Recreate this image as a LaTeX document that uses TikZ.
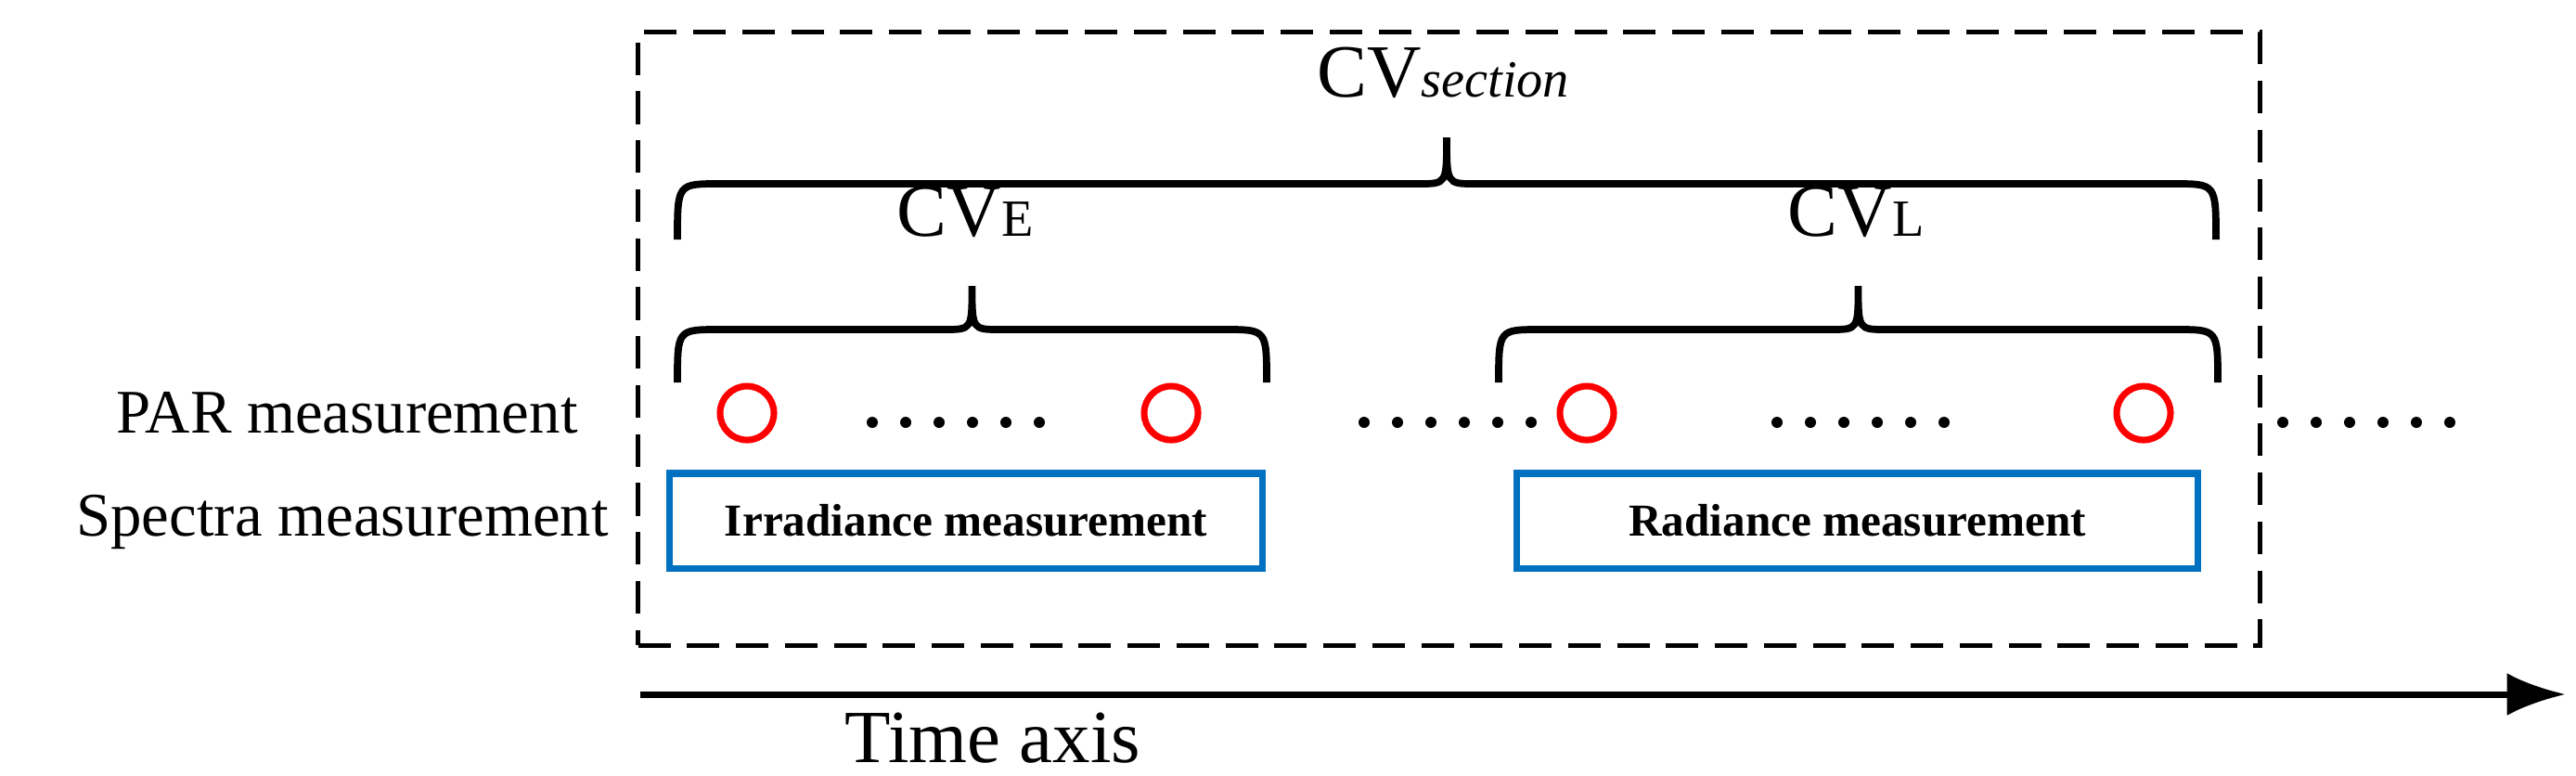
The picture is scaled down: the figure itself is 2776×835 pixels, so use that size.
\documentclass[tikz,border=0pt]{standalone}
\usepackage{fontspec}
\setmainfont{Liberation Serif}
\usetikzlibrary{arrows.meta}
\definecolor{boxblue}{RGB}{0,112,192}
\newcommand{\mybrace}[5]{% x1 x2 ybottom ymid ytop
  \pgfmathsetmacro{\xc}{(#1+#2)/2}
  \draw[line width=2.2pt] (#1,#3) .. controls (#1,#4) .. (#1+45,#4) -- (\xc-30,#4) .. controls (\xc,#4) .. (\xc,#5)
    .. controls (\xc,#4) .. (\xc+30,#4) -- (#2-45,#4) .. controls (#2,#4) .. (#2,#3);}
\begin{document}
\begin{tikzpicture}[x=0.01cm,y=-0.01cm,
  circ/.style={draw=red,line width=2pt,circle,minimum size=0.58cm,inner sep=0},
  box/.style={draw=boxblue,line width=2pt,minimum height=1.02cm,font=\fontsize{14}{17}\selectfont\bfseries},
  lab/.style={font=\fontsize{19}{22}\selectfont}]
\useasboundingbox (0,0) rectangle (2776,835);
\node[draw,dash pattern=on 10pt off 5pt,line width=1.5pt,minimum width=17.47cm,minimum height=6.6cm,inner sep=0] (frame) at (1561.5,365) {};
\node[font=\fontsize{23}{26}\selectfont] (cvs) at (1555,78) {CV\textit{\fontsize{16}{19}\selectfont section}};
\node[font=\fontsize{23}{26}\selectfont] (cve) at (1040,228) {CV{\fontsize{16}{19}\selectfont E}};
\node[font=\fontsize{23}{26}\selectfont] (cvl) at (2000,228) {CV{\fontsize{16}{19}\selectfont L}};
\mybrace{730}{2388}{258}{198}{148}
\mybrace{730}{1365}{412}{355}{308}
\mybrace{1615}{2390}{412}{355}{308}
\foreach \n/\xx in {c1/805,c2/1262,c3/1710,c4/2310} \node[circ] (\n) at (\xx,445) {};
\foreach \aa in {940,1470,1915,2460}
  \foreach \i in {0,...,5} \fill (\aa+\i*36,455) circle (6);
\node[box,minimum width=6.38cm] (irr) at (1041,561) {Irradiance measurement};
\node[box,minimum width=7.33cm] (rad) at (2001.5,561) {Radiance measurement};
\node[lab,anchor=east] (par) at (635,445) {PAR measurement};
\node[lab,anchor=east] (spec) at (668,562) {Spectra measurement};
\coordinate (a0) at (690,748); \coordinate (a1) at (2765,748);
\draw[line width=2pt,-{Latex[length=18,width=13]}] (a0) -- (a1);
\node[font=\fontsize{23}{26}\selectfont] (time) at (1070,795) {Time axis};
\end{tikzpicture}
\end{document}
